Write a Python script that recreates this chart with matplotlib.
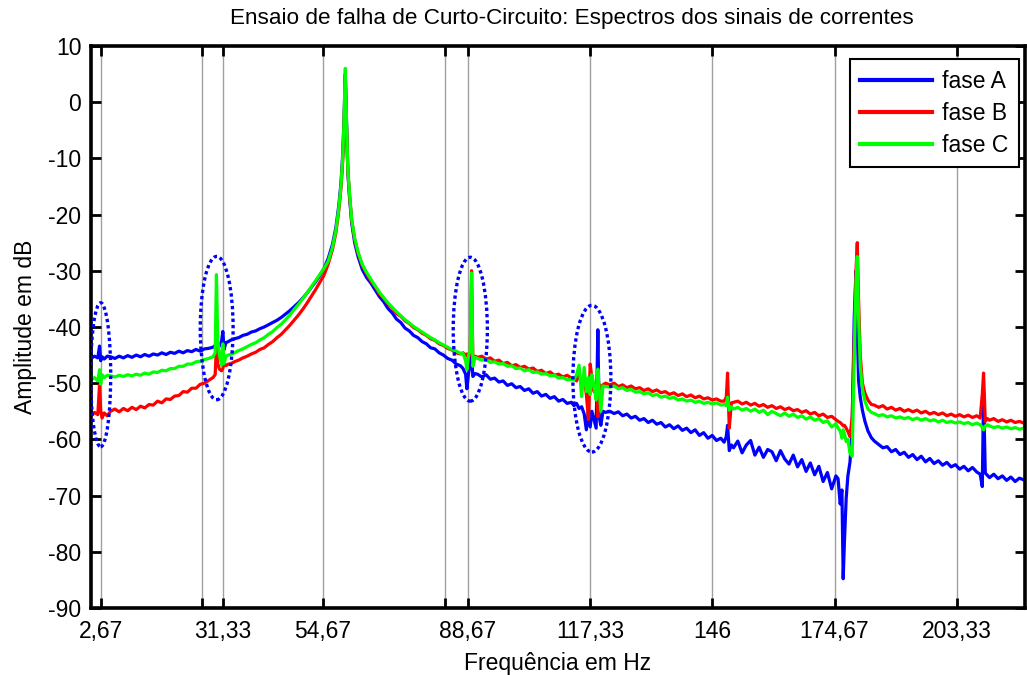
import numpy as np
import matplotlib
matplotlib.use("Agg")
import matplotlib.pyplot as plt
from matplotlib.patches import Ellipse

plt.rcParams['font.family'] = ['Liberation Sans', 'DejaVu Sans']
plt.rcParams['axes.unicode_minus'] = False

# frequencias (Hz) - grade irregular com pontos extras nos picos
freq = [
    0, 0.4, 1.2, 2.0, 2.4, 2.67, 3.0, 3.5, 4.2,
    5, 6, 7, 8, 9, 10, 11, 12, 13, 14, 15, 16, 17, 18, 19, 20, 21, 22, 23, 24, 25, 26, 27, 28,
    29.0, 29.5, 29.8, 30.1, 30.5, 31.0, 31.3, 31.6, 32.0, 32.6,
    33, 34, 35, 36, 37, 38, 39, 40, 41, 42, 43, 44, 45, 46, 47, 48, 49, 50, 51, 52, 53, 54, 55,
    56, 57, 57.8, 58.5, 59.0, 59.4, 59.7, 60.0, 60.3, 60.6, 61.0, 61.5, 62.2, 63.0, 64.0, 65.0,
    66, 67, 68, 69, 70, 71, 72, 73, 74, 75, 76, 77, 78, 79, 80, 81, 82, 83, 84, 85, 86, 87,
    87.6, 88.2, 88.5, 88.9, 89.3, 89.6, 89.9, 90.4,
    91, 92, 93, 94, 95, 96, 97, 98, 99, 100, 101, 102, 103, 104, 105, 106, 107, 108, 109, 110, 111, 112, 113,
    113.6, 114.2, 114.8, 115.4, 116.0, 116.5, 117.0, 117.4, 117.8, 118.3, 118.8, 119.2, 119.5, 119.9, 120.4, 121.0,
    122, 123, 124, 125, 126, 127, 128, 129, 130, 131, 132, 133, 134, 135, 136, 137, 138, 139, 140, 141, 142, 143, 144, 145, 146, 147, 148,
    148.8, 149.3, 149.6, 150.0, 150.5,
    151, 152, 153, 154, 155, 156, 157, 158, 159, 160, 161, 162, 163, 164, 165, 166, 167, 168, 169, 170, 171, 172, 173, 174, 175,
    175.5, 176.0, 176.4, 176.7, 177.0, 177.4, 177.8, 178.3, 178.8, 179.3, 179.7, 180.0, 180.3, 180.7, 181.2, 181.8, 182.5, 183.3,
    184, 185, 186, 187, 188, 189, 190, 191, 192, 193, 194, 195, 196, 197, 198, 199, 200, 201, 202, 203, 204, 205, 206, 207, 208,
    208.8, 209.3, 209.6, 210.0, 210.5,
    211, 212, 213, 214, 215, 216, 217, 218, 219, 220,
]

# fase A (azul)
fase_a = [
    -30.0, -45.6, -45.2, -45.5, -43.4, -46.0, -45.3, -45.7, -45.2,
    -45.3, -45.6, -45.2, -45.5, -45.1, -45.4, -45.0, -45.3, -44.9, -45.2, -44.8, -45.0, -44.6, -44.9, -44.5, -44.7,
    -44.3, -44.6, -44.2, -44.4, -44.0, -44.3, -43.9, -43.8,
    -43.6, -43.3, -43.1, -43.5, -43.4, -42.6, -40.8, -44.0, -42.8, -42.6,
    -42.4, -42.1, -41.9, -41.5, -41.3, -40.9, -40.7, -40.3, -40.0, -39.6, -39.2, -38.8, -38.3, -37.7, -37.1, -36.4,
    -35.7, -34.9, -34.0, -33.0, -32.0, -30.9, -29.6,
    -27.8, -25.3, -22.3, -18.3, -14.3, -9.3, -3.2, 5.0, -4.0, -12.5, -17.0, -21.5, -25.0, -27.5, -29.8, -31.2,
    -32.2, -33.4, -34.6, -35.5, -36.7, -37.5, -38.6, -39.2, -40.2, -40.7, -41.5, -41.9, -42.6, -43.0, -43.7, -43.9,
    -44.6, -45.0, -45.6, -45.9, -46.6, -46.9,
    -47.4, -48.4, -51.0, -48.2, -46.5, -45.0, -48.8, -48.3,
    -48.4, -48.9, -48.5, -49.3, -49.1, -49.8, -49.6, -50.4, -50.1, -50.8, -50.6, -51.3, -51.0, -51.8, -51.5, -52.3,
    -52.0, -52.7, -52.4, -53.2, -52.9, -53.6, -53.4,
    -54.0, -53.6, -54.5, -54.2, -55.5, -58.3, -54.8, -57.8, -55.0, -56.5, -58.0, -40.5, -56.0, -57.5, -55.0, -55.2,
    -55.0, -55.4, -55.1, -55.8, -55.5, -56.2, -55.9, -56.6, -56.3, -57.0, -56.6, -57.3, -57.0, -57.8, -57.4, -58.1,
    -57.6, -58.4, -58.0, -58.8, -58.3, -59.3, -58.8, -59.8, -59.3, -60.2, -59.8,
    -60.5, -59.5, -57.5, -62.0, -61.0,
    -61.5, -60.3, -62.4, -61.0, -60.2, -62.8, -61.4, -63.2, -61.8, -62.2, -63.8, -62.0, -63.5, -64.4, -62.8, -64.9,
    -63.6, -65.7, -64.2, -66.3, -64.8, -67.5, -65.9, -68.8, -66.5,
    -67.0, -71.5, -69.0, -84.8, -78.0, -70.5, -66.5, -64.0, -58.0, -38.0, -30.0, -40.0, -49.5, -52.5, -54.8, -56.8,
    -58.5, -59.7,
    -60.3, -60.9, -61.5, -61.3, -62.2, -61.8, -62.7, -62.3, -63.2, -62.7, -63.6, -63.0, -64.0, -63.4, -64.3, -63.8,
    -64.6, -64.1, -64.9, -64.5, -65.3, -64.8, -65.6, -65.0, -65.8,
    -66.2, -68.4, -51.8, -66.0, -66.4,
    -66.8, -66.2, -67.0, -66.5, -67.3, -66.7, -67.5, -66.9, -67.2, -66.8,
]

# fase B (vermelho)
fase_b = [
    -10.0, -55.8, -55.2, -55.6, -50.3, -54.8, -56.2, -55.3, -55.8,
    -55.0, -54.6, -55.1, -54.5, -54.9, -54.3, -54.7, -54.1, -54.4, -53.8, -53.9, -53.2, -53.5, -52.8, -52.9, -52.3,
    -52.2, -51.5, -51.6, -50.9, -50.9, -50.2, -50.0, -49.5,
    -49.0, -48.5, -43.5, -46.5, -47.5, -47.8, -47.4, -46.3, -46.9, -46.6,
    -46.6, -46.2, -45.9, -45.5, -45.2, -44.8, -44.5, -44.0, -43.7, -43.1, -42.6, -41.9, -41.3, -40.5, -39.7, -38.8,
    -37.9, -36.9, -35.8, -34.6, -33.4, -32.1, -30.8,
    -28.8, -26.2, -23.2, -19.2, -15.2, -10.5, -4.5, 4.5, -4.5, -12.3, -16.6, -21.0, -24.4, -26.9, -29.1, -30.5,
    -31.8, -32.8, -34.1, -34.9, -35.9, -36.6, -37.6, -38.1, -38.9, -39.4, -40.1, -40.5, -41.1, -41.5, -42.1, -42.4,
    -43.0, -43.3, -43.8, -44.1, -44.6, -44.8,
    -44.6, -45.0, -44.8, -45.6, -44.2, -30.0, -45.8, -45.2,
    -45.4, -45.2, -45.7, -45.5, -46.1, -45.9, -46.5, -46.3, -46.9, -46.7, -47.2, -47.0, -47.5, -47.3, -47.9, -47.7,
    -48.3, -48.0, -48.6, -48.4, -48.9, -48.6, -49.1,
    -49.2, -49.6, -48.5, -50.2, -49.0, -52.0, -56.5, -46.6, -49.0, -51.5, -50.5, -56.0, -50.2, -50.8, -50.3, -50.0,
    -50.3, -50.0, -50.6, -50.3, -50.8, -50.5, -51.0, -50.8, -51.3, -51.0, -51.5, -51.2, -51.7, -51.5, -52.0, -51.7,
    -52.2, -51.9, -52.4, -52.1, -52.6, -52.3, -52.8, -52.6, -53.0, -52.8, -53.2,
    -53.2, -52.5, -48.2, -58.0, -53.5,
    -53.4, -53.2, -53.7, -53.4, -53.9, -53.6, -54.1, -53.8, -54.3, -54.0, -54.5, -54.2, -54.7, -54.4, -54.9, -54.7,
    -55.2, -54.9, -55.5, -55.2, -55.8, -55.5, -56.1, -55.9, -56.5,
    -56.8, -57.0, -57.3, -57.6, -57.5, -58.0, -58.6, -59.5, -56.0, -42.0, -30.0, -25.0, -35.0, -45.0, -50.0, -51.8,
    -53.0, -53.8,
    -53.9, -54.3, -54.0, -54.6, -54.3, -54.8, -54.5, -55.0, -54.7, -55.1, -54.8, -55.3, -55.0, -55.5, -55.2, -55.6,
    -55.3, -55.8, -55.5, -55.9, -55.6, -56.0, -55.7, -56.1, -55.8,
    -56.2, -52.0, -48.2, -56.8, -56.3,
    -56.6, -56.3, -56.8, -56.5, -56.9, -56.6, -57.0, -56.8, -57.1, -57.0,
]

# fase C (verde)
fase_c = [
    -17.0, -49.5, -49.0, -49.6, -47.6, -50.2, -48.5, -49.0, -48.6,
    -48.7, -48.9, -48.6, -48.8, -48.5, -48.7, -48.4, -48.6, -48.2, -48.4, -48.0, -48.1, -47.7, -47.8, -47.4, -47.4,
    -47.0, -47.0, -46.6, -46.6, -46.2, -46.1, -45.8, -45.6,
    -45.3, -44.6, -30.7, -42.0, -45.0, -46.8, -43.0, -46.5, -45.2, -45.0,
    -44.9, -44.6, -44.2, -43.9, -43.5, -43.1, -42.8, -42.3, -41.9, -41.3, -40.8, -40.1, -39.5, -38.7, -37.9, -36.9,
    -36.0, -35.0, -34.0, -32.9, -31.8, -30.7, -29.6,
    -28.3, -25.8, -22.8, -18.8, -14.8, -9.8, -3.5, 6.0, -3.5, -12.0, -16.3, -20.8, -24.2, -26.7, -28.9, -30.3,
    -31.5, -32.7, -33.8, -34.8, -35.7, -36.5, -37.3, -38.0, -38.7, -39.3, -39.9, -40.4, -40.9, -41.4, -41.9, -42.3,
    -42.8, -43.2, -43.6, -44.0, -44.3, -44.7,
    -44.7, -46.0, -47.6, -45.0, -44.0, -30.4, -47.0, -45.4,
    -45.6, -45.9, -45.8, -46.3, -46.2, -46.6, -46.5, -47.0, -46.9, -47.4, -47.3, -47.8, -47.6, -48.1, -48.0, -48.4,
    -48.3, -48.7, -48.6, -49.1, -49.0, -49.4, -49.3,
    -49.4, -48.5, -46.8, -52.4, -47.2, -51.5, -49.0, -52.0, -48.5, -50.5, -53.0, -47.5, -51.0, -55.0, -50.5, -50.6,
    -50.7, -50.5, -51.0, -50.8, -51.3, -51.1, -51.6, -51.5, -51.9, -51.7, -52.2, -52.0, -52.5, -52.3, -52.7, -52.5,
    -53.0, -52.8, -53.2, -53.0, -53.4, -53.2, -53.6, -53.4, -53.7, -53.5, -53.9,
    -53.8, -54.0, -52.5, -54.8, -54.2,
    -54.6, -54.3, -54.8, -54.5, -55.0, -54.6, -55.2, -54.8, -55.6, -55.0, -55.4, -55.8, -55.3, -55.9, -55.5, -56.1,
    -55.8, -56.4, -56.0, -56.6, -56.3, -57.0, -56.7, -57.8, -57.2,
    -58.0, -58.5, -59.8, -58.3, -59.0, -60.4, -60.0, -62.5, -63.0, -45.0, -32.0, -27.5, -38.0, -47.0, -51.0, -53.2,
    -54.6, -55.2,
    -55.4, -55.8, -55.6, -56.0, -55.8, -56.2, -56.0, -56.3, -56.1, -56.5, -56.2, -56.6, -56.3, -56.7, -56.5, -56.9,
    -56.6, -57.0, -56.8, -57.1, -56.9, -57.2, -57.0, -57.4, -57.1,
    -57.4, -57.8, -58.3, -57.6, -57.4,
    -57.6, -57.9, -57.7, -58.0, -57.8, -58.1, -57.9, -58.2, -58.0, -58.2,
]

assert len(freq) == len(fase_a) == len(fase_b) == len(fase_c), (len(freq), len(fase_a), len(fase_b), len(fase_c))

xticks = [2.67, 26.33, 31.33, 54.67, 83.33, 88.67, 117.33, 146, 174.67, 203.33]
xticklabels = ['2,67', '', '31,33', '54,67', '', '88,67', '117,33', '146', '174,67', '203,33']
yticks = list(range(-90, 11, 10))

# elipses de destaque: centro (Hz, dB), largura (Hz), altura (dB)
elipse_centros = [(2.67, -48.5), (29.86, -40.2), (89.3, -40.4), (117.8, -49.2)]
elipse_larg = [4.7, 7.7, 8.0, 8.9]
elipse_alt = [25.6, 25.5, 25.6, 26.1]

fig = plt.figure(figsize=(10.27, 6.75), dpi=100)
ax = fig.add_axes([0.0886, 0.0993, 0.9094, 0.8326])

ax.plot(freq, fase_a, color='#0000ff', lw=2.3, label='fase A')
ax.plot(freq, fase_b, color='#ff0000', lw=2.3, label='fase B')
ax.plot(freq, fase_c, color='#00ff00', lw=2.3, label='fase C')

for (cx, cy), w, h in zip(elipse_centros, elipse_larg, elipse_alt):
    ax.add_patch(Ellipse((cx, cy), w, h, fill=False, edgecolor='#0000ff',
                         lw=2.4, linestyle=(0, (1, 0.9)), zorder=5))

ax.set_xlim(0.4, 219.3)
ax.set_ylim(-90, 10)
ax.set_xticks(xticks)
ax.set_xticklabels(xticklabels)
ax.set_yticks(yticks)
ax.xaxis.grid(True, color='#a0a0a0', lw=1.0)
ax.set_axisbelow(True)
ax.tick_params(direction='in', top=True, right=True, length=7, width=2,
               labelsize=16.5)
ax.tick_params(axis='x', pad=9)
ax.tick_params(axis='y', pad=7)
for s in ax.spines.values():
    s.set_linewidth(2.6)

ax.set_title('Ensaio de falha de Curto-Circuito: Espectros dos sinais de correntes',
             fontsize=16.2, pad=16, x=0.515)
ax.set_xlabel('Frequência em Hz', fontsize=16.5, labelpad=6)
ax.set_ylabel('Amplitude em dB', fontsize=16.5, labelpad=8)

leg = ax.legend(loc='upper right', bbox_to_anchor=(0.9936, 0.9763), borderaxespad=0,
                fontsize=16.5, handlelength=3.15, handletextpad=0.45, labelspacing=0.4,
                borderpad=0.45, fancybox=False, framealpha=1, edgecolor='black')
leg.get_frame().set_linewidth(1.5)
for l in leg.get_lines():
    l.set_linewidth(3)

fig.savefig('out.png', dpi=100)
